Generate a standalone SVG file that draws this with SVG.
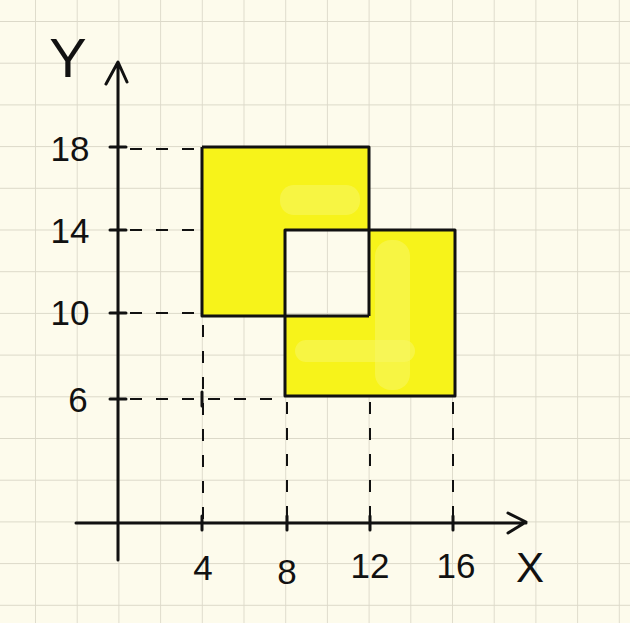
<svg xmlns="http://www.w3.org/2000/svg" width="630" height="623" viewBox="0 0 630 623">
<defs>
<pattern id="grid" x="35" y="21" width="41.7" height="41.7" patternUnits="userSpaceOnUse">
<path d="M0 0H41.7M0 0V41.7" stroke="#dcd9c9" stroke-width="1.8" fill="none"/>
</pattern>
</defs>
<style>
.ax{stroke:#111;stroke-width:3;fill:none;stroke-linecap:round;stroke-linejoin:round}
.edge{stroke:#111;stroke-width:3;fill:none;stroke-linejoin:round}
.dash{stroke:#111;stroke-width:2;fill:none;stroke-dasharray:12 14}
.lbl{font-family:"Liberation Sans",Arial,sans-serif;font-size:35px;fill:#111;text-anchor:middle}
.big{font-size:56px}
.mid{font-size:42px}
.hl{fill:#f8f566;opacity:0.55}
</style>
<rect width="630" height="623" fill="#fdfbec"/>
<rect width="630" height="623" fill="url(#grid)"/>
<g id="shape">
<path d="M202 147H369V230H285V316H202Z" fill="#f7f31a"/>
<path d="M285 316H369V230H455V396H285Z" fill="#f7f31a"/>
<rect class="hl" x="280" y="185" width="80" height="30" rx="14"/>
<rect class="hl" x="375" y="240" width="35" height="150" rx="16"/>
<rect class="hl" x="295" y="340" width="120" height="22" rx="11"/>
<path d="M202 147H369V316" class="edge"/>
<path d="M202 147V316H285" class="edge"/>
<path d="M285 230H455V396H285Z" class="edge"/>
<path d="M285 316H369" class="edge"/>
</g>
<g id="connectors">
<path d="M118 560V64M106 84L118 62L127 82" class="ax"/>
<path d="M76 523H526M508 513L526 522L508 533" class="ax"/>
<path d="M110 147H126M110 230H126M110 313H126M110 399H126" class="ax"/>
<path d="M202 516V530M287 516V530M370 516V530M453 516V530M202 392V406" class="ax"/>
<path d="M130 149H200M130 230H200M130 313H200M130 399H283" class="dash"/>
<path d="M203 325V520M287 402V520M370 402V520M453 402V520" class="dash"/>
</g>
<g id="labels">
<text class="lbl big" x="68" y="77">Y</text>
<text class="lbl" x="70" y="161">18</text>
<text class="lbl" x="70" y="243">14</text>
<text class="lbl" x="70" y="325">10</text>
<text class="lbl" x="78" y="412">6</text>
<text class="lbl" x="203" y="580">4</text>
<text class="lbl" x="287" y="584">8</text>
<text class="lbl" x="370" y="578">12</text>
<text class="lbl" x="456" y="578">16</text>
<text class="lbl mid" x="530" y="582">X</text>
</g>
</svg>
